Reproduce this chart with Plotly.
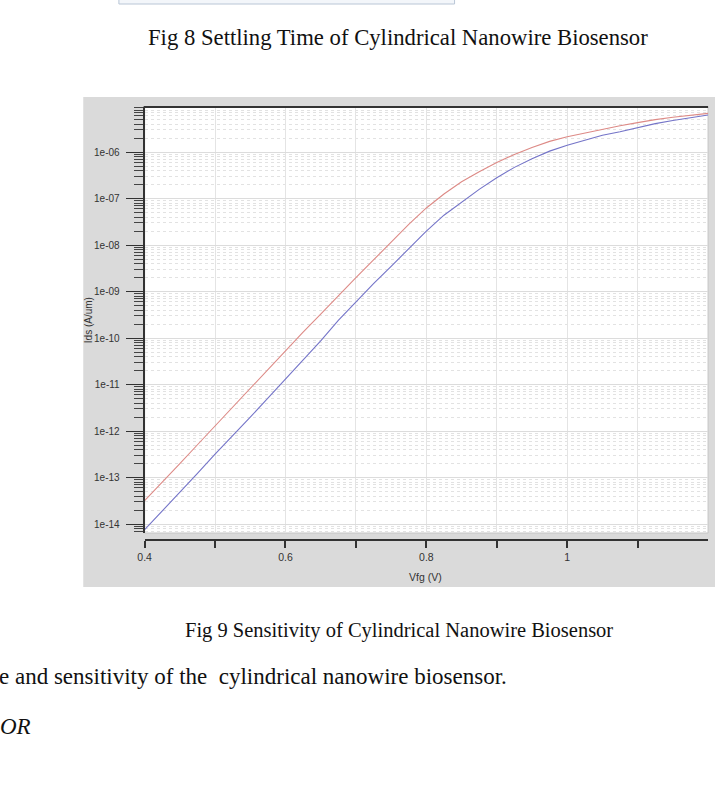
import plotly.graph_objects as go

# ---------------- data ----------------
vfg = [0.400, 0.425, 0.450, 0.475, 0.500, 0.525, 0.550, 0.575, 0.600, 0.625,
       0.650, 0.675, 0.700, 0.725, 0.750, 0.775, 0.800, 0.825, 0.850, 0.875,
       0.900, 0.925, 0.950, 0.975, 1.000, 1.025, 1.050, 1.075, 1.100, 1.125,
       1.150, 1.175, 1.200]

ids_red = [3.2e-14, 7.9e-14, 2.0e-13, 5.1e-13, 1.3e-12, 3.3e-12, 8.5e-12, 2.1e-11, 5.5e-11, 1.35e-10,
           3.3e-10, 8.3e-10, 2.0e-9, 4.8e-9, 1.17e-8, 2.8e-8, 6.3e-8, 1.26e-7, 2.3e-7, 3.8e-7,
           6.0e-7, 8.9e-7, 1.26e-6, 1.7e-6, 2.14e-6, 2.6e-6, 3.1e-6, 3.7e-6, 4.3e-6, 5.0e-6,
           5.6e-6, 6.2e-6, 6.8e-6]

ids_blue = [7.6e-15, 1.9e-14, 4.9e-14, 1.23e-13, 3.2e-13, 7.9e-13, 2.0e-12, 5.1e-12, 1.3e-11, 3.4e-11,
            8.7e-11, 2.4e-10, 6.0e-10, 1.48e-9, 3.5e-9, 8.5e-9, 2.0e-8, 4.4e-8, 8.5e-8, 1.58e-7,
            2.8e-7, 4.7e-7, 7.2e-7, 1.05e-6, 1.41e-6, 1.8e-6, 2.3e-6, 2.75e-6, 3.4e-6, 4.1e-6,
            4.8e-6, 5.5e-6, 6.3e-6]

x_tickvals = [0.4, 0.5, 0.6, 0.7, 0.8, 0.9, 1.0, 1.1]
x_ticktext = ["0.4", "", "0.6", "", "0.8", "", "1", ""]
y_tickvals = [1e-14, 1e-13, 1e-12, 1e-11, 1e-10, 1e-09, 1e-08, 1e-07, 1e-06]
y_ticktext = ["1e-14", "1e-13", "1e-12", "1e-11", "1e-10", "1e-09", "1e-08", "1e-07", "1e-06"]

caption_top = "Fig 8 Settling Time of Cylindrical Nanowire Biosensor"
caption_bottom = "Fig 9 Sensitivity of Cylindrical Nanowire Biosensor"
body_line = "e and sensitivity of the  cylindrical nanowire biosensor."
heading_frag = "OR"
x_title = "Vfg (V)"
y_title = "Ids (A/um)"

# ---------------- layout geometry (pixels of a 715x804 page) ----------------
W, H = 715, 804
def px(x):
    return x / W
def py(y):
    return 1 - y / H

plot_l, plot_r, plot_t, plot_b = 139, 708, 107, 533
xaxis_line_y = 540

fig = go.Figure()
fig.add_trace(go.Scatter(x=vfg, y=ids_red, mode="lines",
                         line=dict(color="#dd8a86", width=1.1), showlegend=False))
fig.add_trace(go.Scatter(x=vfg, y=ids_blue, mode="lines",
                         line=dict(color="#7474c8", width=1.1), showlegend=False))

axis_font = dict(family="Liberation Sans, Arial, sans-serif", size=10.5, color="#333333")
ytick_font = dict(family="Liberation Sans, Arial, sans-serif", size=10, color="#333333")
serif = "Liberation Serif, Times New Roman, serif"

fig.update_layout(
    width=W, height=H,
    margin=dict(l=0, r=0, t=0, b=0),
    paper_bgcolor="white",
    plot_bgcolor="white",
    xaxis=dict(
        domain=[px(plot_l), px(plot_r)],
        range=[0.4, 1.2],
        anchor="free", position=py(xaxis_line_y),
        tickvals=x_tickvals, ticktext=x_ticktext,
        ticks="outside", ticklen=7, tickcolor="#333333", tickwidth=1.5,
        showline=True, linecolor="#333333", linewidth=2,
        showgrid=True, gridcolor="#e4e4e4", gridwidth=1,
        zeroline=False,
        tickfont=axis_font,
    ),
    yaxis=dict(
        domain=[py(plot_b), py(plot_t)],
        type="log",
        range=[-14.19, -5.03],
        tickvals=y_tickvals, ticktext=y_ticktext,
        ticks="outside", ticklen=17, tickcolor="#333333", tickwidth=1.3,
        ticklabelstandoff=4,
        showline=True, linecolor="#333333", linewidth=2,
        showgrid=True, gridcolor="#dcdcdc", gridwidth=1,
        minor=dict(dtick="D1", ticks="outside", ticklen=9, tickcolor="#444444",
                   showgrid=True, gridcolor="#e2e2e2", griddash="dot"),
        zeroline=False,
        tickfont=ytick_font,
    ),
    shapes=[
        # grey panel behind the chart
        dict(type="rect", xref="paper", yref="paper", layer="below",
             x0=px(77), x1=1.0, y0=py(587), y1=py(97),
             fillcolor="#dadada", line=dict(width=0)),
        # white plotting area with thin light frame
        dict(type="rect", xref="paper", yref="paper", layer="below",
             x0=px(plot_l), x1=px(plot_r), y0=py(plot_b), y1=py(plot_t),
             fillcolor="white", line=dict(color="#c4c4c4", width=1)),
        # dark top border of the frame
        dict(type="line", xref="paper", yref="paper", layer="above",
             x0=px(plot_l - 1), x1=px(plot_r), y0=py(plot_t), y1=py(plot_t),
             line=dict(color="#333333", width=2)),
        # bottom edge of the previous figure box at the very top
        dict(type="rect", xref="paper", yref="paper", layer="below",
             x0=px(113), x1=px(452), y0=py(4), y1=1.02,
             fillcolor="#f3f6fa", line=dict(color="#b9c6d6", width=1)),
    ],
    annotations=[
        dict(text=x_title, x=px(423), y=py(577), xref="paper", yref="paper",
             showarrow=False, xanchor="center", yanchor="middle", font=axis_font),
        dict(text=y_title, x=px(82), y=py(320), xref="paper", yref="paper",
             showarrow=False, xanchor="center", yanchor="middle", textangle=-90,
             font=ytick_font),
        dict(text=caption_top, x=px(395), y=py(38), xref="paper", yref="paper",
             showarrow=False, xanchor="center", yanchor="middle",
             font=dict(family=serif, size=22.7, color="#111111")),
        dict(text=caption_bottom, x=px(396), y=py(630), xref="paper", yref="paper",
             showarrow=False, xanchor="center", yanchor="middle",
             font=dict(family=serif, size=20.5, color="#111111")),
        dict(text=body_line, x=px(-10), y=py(676), xref="paper", yref="paper",
             showarrow=False, xanchor="left", yanchor="middle",
             font=dict(family=serif, size=23, color="#111111")),
        dict(text="<i>" + heading_frag + "</i>", x=px(-9), y=py(726), xref="paper", yref="paper",
             showarrow=False, xanchor="left", yanchor="middle",
             font=dict(family=serif, size=23, color="#111111")),
    ],
)

fig.write_html("out.html")
